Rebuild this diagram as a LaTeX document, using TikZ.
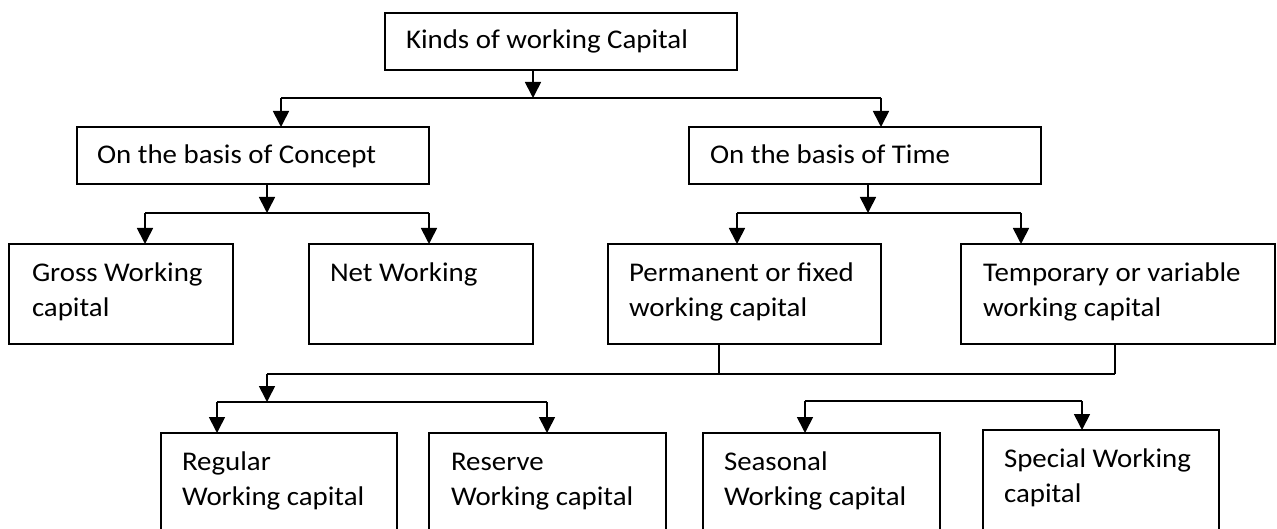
\documentclass[tikz,border=0pt]{standalone}
\usepackage{fontspec}
\setmainfont{Carlito}[FakeStretch=1.07]
\usetikzlibrary{arrows.meta}
\tikzset{
  box/.style={draw=black, line width=1.7pt, inner sep=0pt, outer sep=0pt, anchor=north west},
  txt/.style={inner sep=0pt, outer sep=0pt, anchor=base west, font=\fontsize{27}{35}\selectfont},
  con/.style={draw=black, line width=1.7pt},
  arr/.style={con, -{Triangle[width=16pt,length=16pt]}},
}
\newcommand{\bx}[5]{\node[box, minimum width=#4pt-#2pt, minimum height=#5pt-#3pt] (#1) at (#2,#3) {};}
\newcommand{\tl}[2]{\parbox[t]{#1}{#2}}
\begin{document}
\begin{tikzpicture}[x=1pt,y=-1pt]
\useasboundingbox (0,0) rectangle (1277,529);
\clip (0,0) rectangle (1277,529);
% boxes
\bx{top}{385}{13}{737}{70}
\bx{concept}{77}{127}{429}{184}
\bx{time}{689}{127}{1041}{184}
\bx{gross}{9}{244}{233}{344}
\bx{net}{309}{244}{533}{344}
\bx{perm}{608}{244}{881}{344}
\bx{temp}{961}{244}{1275}{344}
\bx{regular}{161}{433}{397}{580}
\bx{reserve}{429}{433}{666}{580}
\bx{seasonal}{703}{433}{940}{580}
\bx{special}{983}{430}{1219}{580}
% texts
\node[txt] (top-t) at (406,49) {Kinds of working Capital};
\node[txt] (concept-t) at (97,164) {On the basis of Concept};
\node[txt] (time-t) at (710,164) {On the basis of Time};
\node[txt] (gross-t) at (32,282) {\tl{190pt}{Gross Working\\capital}};
\node[txt] (net-t) at (330,282) {Net Working};
\node[txt] (perm-t) at (629,282) {\tl{250pt}{Permanent or fixed\\working capital}};
\node[txt] (temp-t) at (983,282) {\tl{290pt}{Temporary or variable\\working capital}};
\node[txt] (regular-t) at (182,470) {\tl{210pt}{Regular\\Working capital}};
\node[txt] (reserve-t) at (451,470) {\tl{210pt}{Reserve\\Working capital}};
\node[txt] (seasonal-t) at (724,470) {\tl{210pt}{Seasonal\\Working capital}};
\node[txt] (special-t) at (1004,467) {\tl{210pt}{Special Working\\capital}};
% junction coordinates
\coordinate (j1) at (533,98);
\coordinate (j1l) at (281,98);
\coordinate (j1r) at (881,98);
\coordinate (j2) at (267,213);
\coordinate (j2l) at (145,213);
\coordinate (j2r) at (429,213);
\coordinate (j3) at (868,213);
\coordinate (j3l) at (737,213);
\coordinate (j3r) at (1021,213);
\coordinate (j4p) at (719,374);
\coordinate (j4t) at (1115,374);
\coordinate (j4) at (267,374);
\coordinate (j5) at (267,402);
\coordinate (j5l) at (217,402);
\coordinate (j5r) at (547,402);
\coordinate (j6l) at (805,401);
\coordinate (j6r) at (1082,401);
% connectors
\draw[arr] (top.south -| j1) -- (j1);
\draw[con] (j1l) -- (j1r);
\draw[arr] (j1l) -- (concept.north -| j1l);
\draw[arr] (j1r) -- (time.north -| j1r);
\draw[arr] (concept.south -| j2) -- (j2);
\draw[con] (j2l) -- (j2r);
\draw[arr] (j2l) -- (gross.north -| j2l);
\draw[arr] (j2r) -- (net.north -| j2r);
\draw[arr] (time.south -| j3) -- (j3);
\draw[con] (j3l) -- (j3r);
\draw[arr] (j3l) -- (perm.north -| j3l);
\draw[arr] (j3r) -- (temp.north -| j3r);
\draw[con] (perm.south -| j4p) -- (j4p);
\draw[con] (temp.south -| j4t) -- (j4t);
\draw[con] (j4) -- (j4t);
\draw[arr] (j4) -- (j5);
\draw[con] (j5l) -- (j5r);
\draw[arr] (j5l) -- (regular.north -| j5l);
\draw[arr] (j5r) -- (reserve.north -| j5r);
\draw[con] (j6l) -- (j6r);
\draw[arr] (j6l) -- (seasonal.north -| j6l);
\draw[arr] (j6r) -- (special.north -| j6r);
\end{tikzpicture}
\end{document}
